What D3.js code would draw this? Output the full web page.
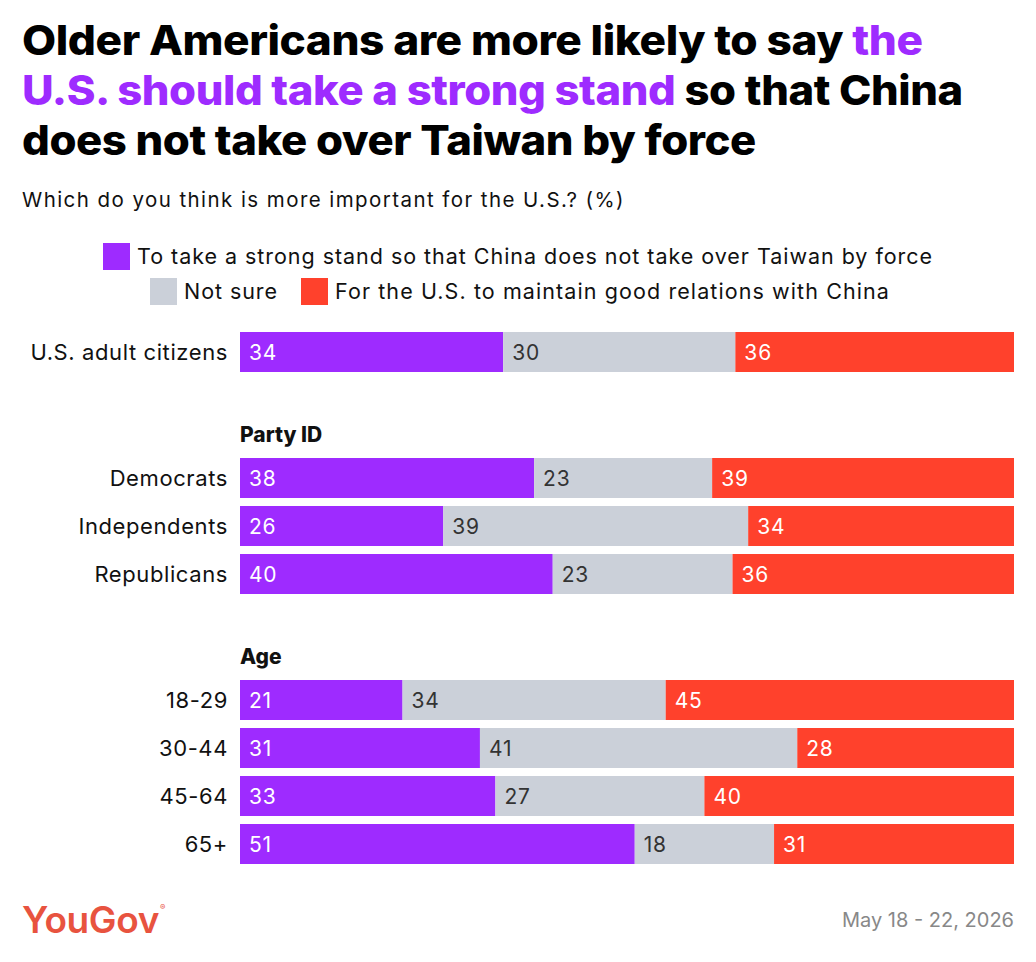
<!DOCTYPE html>
<html>
<head>
<meta charset="utf-8">
<script src="https://cdn.jsdelivr.net/npm/d3@7"></script>
<style>
  body { margin:0; background:#fff; }
  svg text { font-family: Inter, "Open Sans", sans-serif; }
</style>
</head>
<body>
<div id="chart"></div>
<script>
// data
var categories = ['U.S. adult citizens','Democrats','Independents','Republicans','18-29','30-44','45-64','65+'];
var groupOf = [0,1,1,1,2,2,2,2];
var groupNames = ['', 'Party ID', 'Age'];
var strongStand = [34,38,26,40,21,31,33,51];
var notSure = [30,23,39,23,34,41,27,18];
var goodRelations = [36,39,34,36,45,28,40,31];
var seriesNames = ['To take a strong stand so that China does not take over Taiwan by force','Not sure','For the U.S. to maintain good relations with China'];
var colors = ['#9E2BFF','#CBD0D9','#FF412C'];
var textColors = ['#fff','#333','#fff'];

var W = 1036, H = 962;
var svg = d3.select('#chart').append('svg').attr('width',W).attr('height',H);

//stretch text to the width it has in the original via letter-spacing
function fit(sel, target){
	sel.each(function(){
		var node = this, n = d3.select(node).text().length;
		var len = node.getComputedTextLength();
		d3.select(node).attr('letter-spacing', (target-len)/n);
	});
}
//or by scaling the glyphs sideways (title, where the spacing is tight)
function stretch(g, sel, target, x, y){
	var len = sel.node().getComputedTextLength();
	g.attr('transform','translate('+x+','+y+') scale('+(target/len)+',1)');
}

// title
var title = svg.append('g').attr('font-weight',800).attr('font-size',41).attr('fill','#000');
var lines = [
	[{t:'Older Americans are more likely to say '},{t:'the',c:'#9E2BFF'}],
	[{t:'U.S. should take a strong stand',c:'#9E2BFF'},{t:' so that China'}],
	[{t:'does not take over Taiwan by force'}]
];
var lineY = [55,105,155], lineW = [901,941,734];
lines.forEach(function(parts,i){
	var g = title.append('g');
	var t = g.append('text').attr('letter-spacing',-0.4);
	parts.forEach(function(p){ t.append('tspan').attr('fill',p.c||null).text(p.t); });
	stretch(g,t,lineW[i],22,lineY[i]);
});

var sub = svg.append('text').attr('x',22).attr('y',207).attr('font-size',20.5).attr('fill','#111')
	.text('Which do you think is more important for the U.S.? (%)');
fit(sub,603);

// legend
var legendPos = [{x:103,y:243,w:796},{x:150,y:278,w:94},{x:301,y:278,w:555}];
var legend = svg.selectAll('.legend').data(seriesNames).enter().append('g').attr('class','legend')
	.attr('transform',function(d,i){return 'translate('+legendPos[i].x+','+legendPos[i].y+')'});
legend.append('rect').attr('width',27).attr('height',27).attr('fill',function(d,i){return colors[i]});
legend.append('text').attr('x',34).attr('y',21).attr('font-size',21.5).attr('fill','#111').text(function(d){return d})
	.each(function(d,i){fit(d3.select(this),legendPos[i].w)});

// scales
var x = d3.scaleLinear().domain([0,100]).range([240,1014]);
var yRow = d3.scaleLinear().domain([0,1]).range([332,380]);
var yGroup = d3.scaleLinear().domain([0,1]).range([0,78]);
var barH = 40;

var rows = categories.map(function(c,i){
	var vals = [strongStand[i],notSure[i],goodRelations[i]];
	var total = d3.sum(vals);
	var start = 0;
	var segs = vals.map(function(v,k){
		var s = {v:v,k:k,x0:start/total*100,x1:(start+v)/total*100};
		start += v;
		return s;
	});
	return {name:c, top:yRow(i)+yGroup(groupOf[i]), segs:segs};
});

// group headers
groupNames.forEach(function(g,gi){
	if(!g) return;
	var first = groupOf.indexOf(gi);
	svg.append('text').attr('x',x(0)).attr('y',yRow(first)+yGroup(gi)-16)
		.attr('font-size',21).attr('font-weight',800).attr('fill','#111').text(g);
});

var rowG = svg.selectAll('.row').data(rows).enter().append('g').attr('class','row')
	.attr('transform',function(d){return 'translate(0,'+d.top+')'});

rowG.append('text').attr('x',228).attr('y',barH/2).attr('dy','0.36em')
	.attr('text-anchor','end').attr('font-size',22).attr('letter-spacing',0.6).attr('fill','#111')
	.text(function(d){return d.name});

var seg = rowG.selectAll('.seg').data(function(d){return d.segs}).enter().append('g');
seg.append('rect')
	.attr('x',function(d){return x(d.x0)})
	.attr('width',function(d){return x(d.x1)-x(d.x0)})
	.attr('height',barH)
	.attr('fill',function(d){return colors[d.k]});
seg.append('text')
	.attr('x',function(d){return x(d.x0)+9})
	.attr('y',barH/2).attr('dy','0.36em')
	.attr('font-size',21).attr('letter-spacing',0.8)
	.attr('fill',function(d){return textColors[d.k]})
	.text(function(d){return d.v});

// footer
var logo = svg.append('text').attr('x',22).attr('y',933).attr('font-size',37).attr('font-weight',600)
	.attr('fill','#E8533F').text('YouGov');
fit(logo,137);
svg.append('text').attr('x',160).attr('y',910).attr('font-size',8).attr('fill','#E8533F').text('®');
svg.append('text').attr('x',1014).attr('y',927).attr('text-anchor','end').attr('font-size',20)
	.attr('fill','#888').text('May 18 - 22, 2026');
</script>
</body>
</html>
